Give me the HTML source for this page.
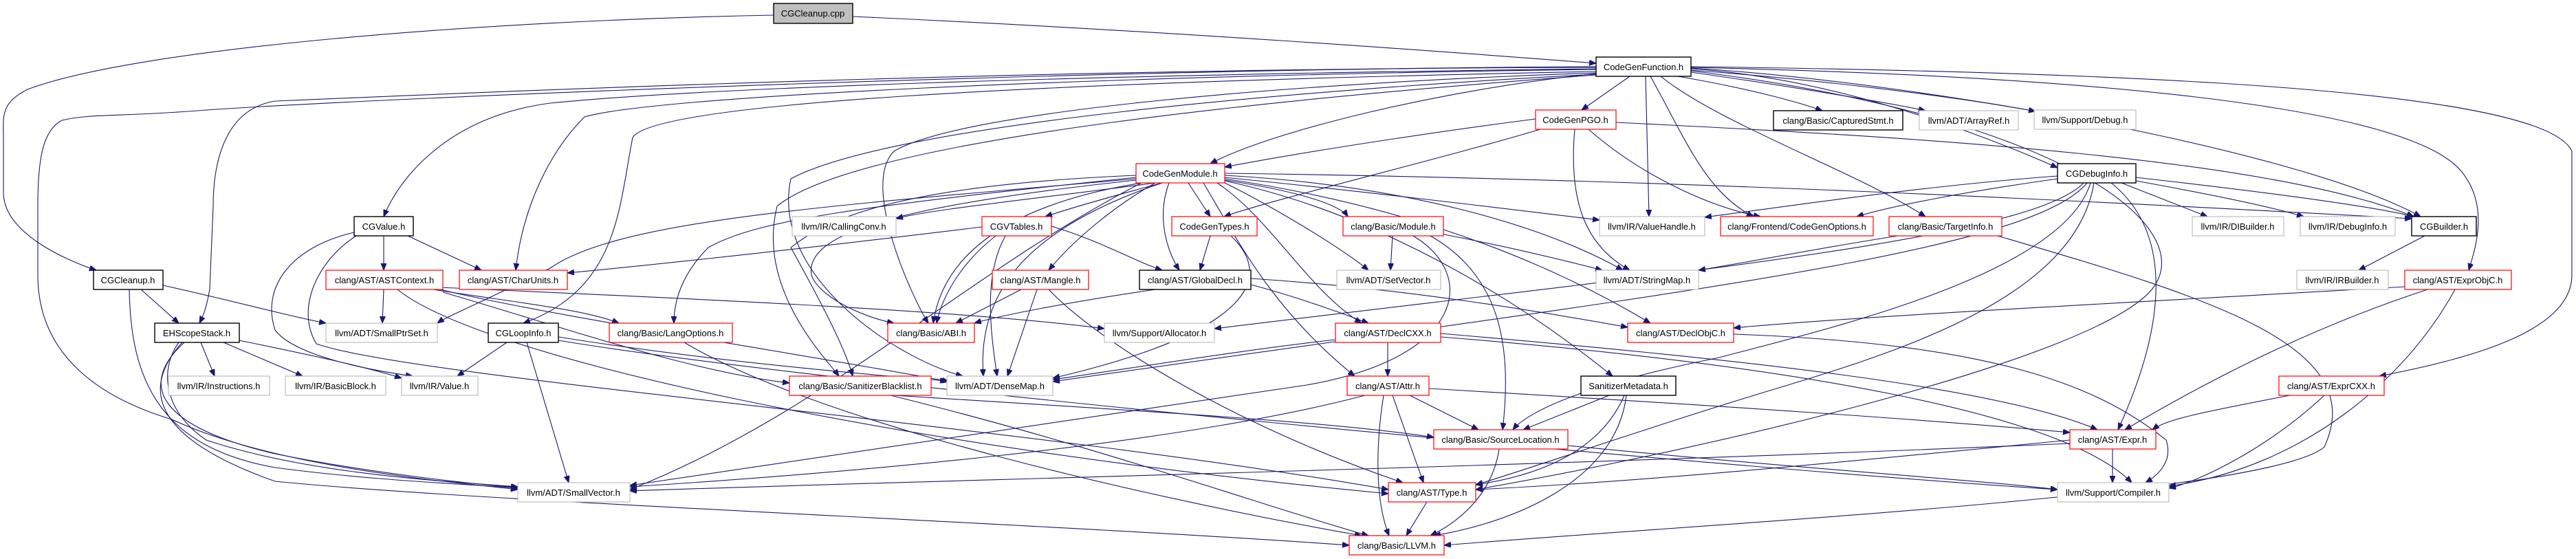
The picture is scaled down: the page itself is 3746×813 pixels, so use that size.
<!DOCTYPE html>
<html><head><meta charset="utf-8"><style>
html,body{margin:0;padding:0;background:#fff;}
svg{display:block;}
text{font-family:"Liberation Sans",sans-serif;font-size:13px;text-anchor:middle;fill:#000;}
.e{fill:none;stroke:#191970;stroke-width:1.1;marker-end:url(#a);}
.k{fill:#fff;stroke:#000;stroke-width:1.4;}
.r{fill:#fff;stroke:#ff0000;stroke-width:1.2;}
.g{fill:#fff;stroke:#bfbfbf;stroke-width:1.2;}
</style></head><body>
<svg width="3746" height="813" viewBox="0 0 3746 813" xmlns="http://www.w3.org/2000/svg">
<defs><marker id="a" markerUnits="userSpaceOnUse" markerWidth="11" markerHeight="9" refX="10" refY="4" orient="auto"><path d="M0,0 L10,4 L0,8 z" fill="#191970" stroke="#191970"/></marker></defs>
<g>
<path class="e" d="M1125 22 C700 30 200 70 40 130 C0 150 5 170 5 200 L5 280 C5 340 100 380 140 393"/>
<path class="e" d="M1240 24 C1700 45 2100 75 2321 92"/>
<path class="e" d="M2370 111 L2300 160"/>
<path class="e" d="M2321 107 C2100 130 1850 190 1760 238"/>
<path class="e" d="M2440 111 C2550 130 2620 150 2650 161"/>
<path class="e" d="M2459 105 C2600 125 2750 150 2800 161"/>
<path class="e" d="M2459 102 C2700 120 2900 150 2960 162"/>
<path class="e" d="M2459 100 C2700 115 2950 225 2992 244"/>
<path class="e" d="M2459 99 C2800 120 3350 220 3520 315"/>
<path class="e" d="M2459 98 C3000 110 3500 150 3580 250 C3620 300 3600 360 3590 393"/>
<path class="e" d="M2459 97 C3100 105 3700 130 3740 220 L3740 400 C3740 480 3600 520 3460 547"/>
<path class="e" d="M2393 111 L2398 315"/>
<path class="e" d="M2400 111 C2450 200 2480 280 2550 315"/>
<path class="e" d="M2415 111 C2500 180 2700 250 2800 315"/>
<path class="e" d="M2459 103 C3000 170 3200 330 3130 420 C3050 520 2500 650 2146 712"/>
<path class="e" d="M2321 100 C1500 110 1000 130 800 150 C650 170 580 260 558 315"/>
<path class="e" d="M2321 101 C1600 110 950 140 850 170 C800 220 760 300 750 393"/>
<path class="e" d="M2321 104 C1500 120 950 150 920 200 C900 300 900 420 761 470"/>
<path class="e" d="M2321 98 C1500 100 800 130 400 147 C320 160 310 250 310 300 L305 420 C300 450 295 460 290 470"/>
<path class="e" d="M2321 97 C1600 100 600 140 300 160 C180 170 130 165 90 175 C60 190 55 240 55 300 L55 400 C55 520 150 580 250 610 C400 680 650 700 753 712"/>
<path class="e" d="M2321 106 C1900 120 1400 160 1300 220 C1250 270 1330 440 1350 470"/>
<path class="e" d="M2321 108 C1900 130 1300 180 1150 260 C1120 400 1300 520 1400 547"/>
<path class="e" d="M2321 109 C1900 140 1250 200 1130 300 C1100 420 1200 520 1220 547"/>
<path class="e" d="M2233 173 C2100 190 1900 220 1781 243"/>
<path class="e" d="M2240 188 C2100 230 1850 290 1780 315"/>
<path class="e" d="M2310 188 C2380 250 2480 300 2560 315"/>
<path class="e" d="M2290 188 C2280 300 2310 360 2370 393"/>
<path class="e" d="M2350 178 C2800 200 3300 230 3510 315"/>
<path class="e" d="M1680 266 C1500 290 1350 305 1303 318"/>
<path class="e" d="M1690 266 C1600 290 1550 305 1520 315"/>
<path class="e" d="M1728 266 L1760 315"/>
<path class="e" d="M1700 266 C1680 320 1700 370 1715 393"/>
<path class="e" d="M1680 266 C1620 300 1560 350 1525 393"/>
<path class="e" d="M1660 266 C1450 300 1370 380 1357 470"/>
<path class="e" d="M1652 262 C1300 300 1170 340 1180 400 C1190 430 1250 460 1300 470"/>
<path class="e" d="M1781 262 C1900 280 1950 300 1960 315"/>
<path class="e" d="M1781 266 C1850 300 1950 360 1990 393"/>
<path class="e" d="M1781 258 C2000 280 2200 305 2326 320"/>
<path class="e" d="M1781 255 C2050 270 2250 330 2360 393"/>
<path class="e" d="M1770 266 C1850 320 1900 420 1980 470"/>
<path class="e" d="M1781 260 C2050 300 2250 380 2400 470"/>
<path class="e" d="M1781 263 C2000 310 2200 430 2345 547"/>
<path class="e" d="M1750 266 C1800 350 1850 450 1970 547"/>
<path class="e" d="M1690 266 C1500 330 1420 420 1430 547"/>
<path class="e" d="M1652 255 C1300 270 1200 320 1150 360 C1200 450 1230 510 1240 547"/>
<path class="e" d="M1652 258 C1250 300 1100 320 1030 360 C990 400 980 440 980 470"/>
<path class="e" d="M1652 260 C1200 300 900 320 800 390 C700 440 650 460 636 470"/>
<path class="e" d="M1781 252 C2400 260 3000 290 3507 318"/>
<path class="e" d="M1660 266 C1400 400 1200 600 916 712"/>
<path class="e" d="M3085 266 L3210 315"/>
<path class="e" d="M3106 263 C3200 280 3300 300 3350 315"/>
<path class="e" d="M3106 258 C3300 280 3450 300 3510 315"/>
<path class="e" d="M2992 256 C2800 270 2600 300 2479 316"/>
<path class="e" d="M2992 260 C2850 280 2750 300 2700 315"/>
<path class="e" d="M3070 266 C3150 330 3160 450 3080 625"/>
<path class="e" d="M3030 266 C2950 350 2400 400 1766 478"/>
<path class="e" d="M3035 266 C2950 370 2400 430 1531 555"/>
<path class="e" d="M3040 266 C3000 400 2650 480 2500 520 C2300 560 2220 600 2200 625"/>
<path class="e" d="M3045 266 C3020 420 2800 500 2600 560 C2400 620 2200 690 2146 705"/>
<path class="e" d="M558 343 L558 393"/>
<path class="e" d="M593 343 L700 393"/>
<path class="e" d="M515 338 C420 360 380 420 400 480 C430 520 550 540 600 547"/>
<path class="e" d="M518 343 C460 380 430 450 460 500 C600 550 1500 620 2019 712"/>
<path class="e" d="M558 421 L556 470"/>
<path class="e" d="M630 421 C750 440 850 450 900 470"/>
<path class="e" d="M640 421 C800 460 1200 520 1380 555"/>
<path class="e" d="M640 418 C900 430 1400 450 1606 478"/>
<path class="e" d="M578 421 C700 520 1300 650 2019 718"/>
<path class="e" d="M644 425 C800 470 1000 540 1148 557"/>
<path class="e" d="M1428 330 C1100 370 900 390 825 397"/>
<path class="e" d="M205 421 L260 470"/>
<path class="e" d="M237 415 C350 440 420 460 474 470"/>
<path class="e" d="M188 421 C190 550 230 650 400 680 C550 700 700 705 753 710"/>
<path class="e" d="M292 498 L312 547"/>
<path class="e" d="M325 498 L440 547"/>
<path class="e" d="M348 495 C420 510 520 530 584 550"/>
<path class="e" d="M268 498 C200 560 230 620 400 660 C550 690 700 705 753 709"/>
<path class="e" d="M260 498 C230 540 240 600 300 640 C450 690 650 700 753 708"/>
<path class="e" d="M265 498 C200 570 230 640 400 700 C700 730 1500 760 1962 793"/>
<path class="e" d="M737 498 L665 547"/>
<path class="e" d="M766 498 L827 702"/>
<path class="e" d="M812 490 C1000 520 1200 540 1377 554"/>
<path class="e" d="M812 495 C1200 560 2500 680 2992 712"/>
<path class="e" d="M995 498 C1200 620 1700 730 1980 779"/>
<path class="e" d="M1529 329 C1600 350 1650 380 1690 393"/>
<path class="e" d="M1448 343 C1400 380 1370 430 1362 470"/>
<path class="e" d="M1462 343 C1430 400 1440 480 1450 547"/>
<path class="e" d="M1760 343 L1745 393"/>
<path class="e" d="M1790 343 C1850 400 1830 480 1531 550"/>
<path class="e" d="M1680 421 C1550 440 1450 460 1417 470"/>
<path class="e" d="M1819 414 C1880 430 1950 455 1990 470"/>
<path class="e" d="M1819 405 C2050 420 2250 455 2367 476"/>
<path class="e" d="M1485 421 L1390 470"/>
<path class="e" d="M1508 421 L1465 547"/>
<path class="e" d="M1525 421 C1600 500 1800 620 2040 702"/>
<path class="e" d="M2025 343 L2022 393"/>
<path class="e" d="M2095 340 C2200 360 2280 380 2330 393"/>
<path class="e" d="M2080 343 C2180 400 2200 500 2185 625"/>
<path class="e" d="M2055 343 C2150 400 2130 520 1900 560 C1500 620 1100 680 916 706"/>
<path class="e" d="M2760 343 C2650 360 2550 380 2470 393"/>
<path class="e" d="M2905 343 C3200 430 3450 500 3380 650 C3300 720 2500 760 2100 793"/>
<path class="e" d="M2018 498 L2018 547"/>
<path class="e" d="M1942 494 C1800 510 1650 535 1531 552"/>
<path class="e" d="M2095 485 C2500 520 2900 560 3050 625"/>
<path class="e" d="M2095 490 C2600 530 3000 600 3100 702"/>
<path class="e" d="M2521 486 C2900 500 3050 560 3150 640 C3160 670 3140 690 3120 702"/>
<path class="e" d="M2050 575 L2150 625"/>
<path class="e" d="M2025 575 L2070 702"/>
<path class="e" d="M2012 575 C2000 650 2000 730 2020 779"/>
<path class="e" d="M1985 575 C1700 650 1200 690 916 708"/>
<path class="e" d="M2078 565 C2500 590 2800 610 3010 629"/>
<path class="e" d="M2340 575 L2215 625"/>
<path class="e" d="M2362 575 C2330 650 2250 690 2146 705"/>
<path class="e" d="M2365 575 C2350 700 2200 760 2085 779"/>
<path class="e" d="M1300 575 C1700 600 1950 615 2085 636"/>
<path class="e" d="M1295 575 C1600 650 1850 740 1990 779"/>
<path class="e" d="M2180 653 C2170 720 2120 760 2080 779"/>
<path class="e" d="M2280 648 C2600 680 2900 700 2992 712"/>
<path class="e" d="M2075 730 L2045 779"/>
<path class="e" d="M3072 653 L3072 702"/>
<path class="e" d="M3010 640 C2700 670 2400 700 2146 712"/>
<path class="e" d="M3010 645 C2200 680 1300 700 916 714"/>
<path class="e" d="M3330 575 C3200 600 3150 610 3130 625"/>
<path class="e" d="M3380 575 C3300 650 3200 700 3154 710"/>
<path class="e" d="M3530 421 C3350 480 3200 560 3090 625"/>
<path class="e" d="M3570 421 C3500 550 3350 680 3154 707"/>
<path class="e" d="M3497 417 C3100 440 2700 460 2521 477"/>
<path class="e" d="M3526 343 L3430 393"/>
</g>
<g>
<rect x="1125" y="5" width="115" height="29" fill="#bfbfbf" stroke="#000" stroke-width="1.4"/><text x="1182" y="24">CGCleanup.cpp</text>
<rect class="k" x="2321" y="83" width="138" height="28"/><text x="2390" y="102">CodeGenFunction.h</text>
<rect class="r" x="2233" y="160" width="117" height="28"/><text x="2291" y="179">CodeGenPGO.h</text>
<rect class="k" x="2579" y="161" width="188" height="28"/><text x="2673" y="180">clang/Basic/CapturedStmt.h</text>
<rect class="g" x="2791" y="161" width="144" height="28"/><text x="2863" y="180">llvm/ADT/ArrayRef.h</text>
<rect class="g" x="2958" y="160" width="148" height="28"/><text x="3032" y="179">llvm/Support/Debug.h</text>
<rect class="r" x="1652" y="238" width="129" height="28"/><text x="1716" y="257">CodeGenModule.h</text>
<rect class="k" x="2992" y="238" width="114" height="28"/><text x="3049" y="257">CGDebugInfo.h</text>
<rect class="k" x="515" y="315" width="86" height="28"/><text x="558" y="334">CGValue.h</text>
<rect class="g" x="1152" y="315" width="151" height="28"/><text x="1227" y="334">llvm/IR/CallingConv.h</text>
<rect class="r" x="1428" y="315" width="101" height="28"/><text x="1478" y="334">CGVTables.h</text>
<rect class="r" x="1704" y="315" width="124" height="28"/><text x="1766" y="334">CodeGenTypes.h</text>
<rect class="r" x="1953" y="315" width="146" height="28"/><text x="2026" y="334">clang/Basic/Module.h</text>
<rect class="g" x="2326" y="315" width="153" height="28"/><text x="2402" y="334">llvm/IR/ValueHandle.h</text>
<rect class="r" x="2502" y="315" width="222" height="28"/><text x="2613" y="334">clang/Frontend/CodeGenOptions.h</text>
<rect class="r" x="2747" y="315" width="164" height="28"/><text x="2829" y="334">clang/Basic/TargetInfo.h</text>
<rect class="g" x="3188" y="315" width="133" height="28"/><text x="3254" y="334">llvm/IR/DIBuilder.h</text>
<rect class="g" x="3345" y="315" width="138" height="28"/><text x="3414" y="334">llvm/IR/DebugInfo.h</text>
<rect class="k" x="3507" y="315" width="94" height="28"/><text x="3554" y="334">CGBuilder.h</text>
<rect class="k" x="136" y="393" width="101" height="28"/><text x="186" y="412">CGCleanup.h</text>
<rect class="r" x="474" y="393" width="170" height="28"/><text x="559" y="412">clang/AST/ASTContext.h</text>
<rect class="r" x="668" y="393" width="157" height="28"/><text x="746" y="412">clang/AST/CharUnits.h</text>
<rect class="r" x="1443" y="393" width="140" height="28"/><text x="1513" y="412">clang/AST/Mangle.h</text>
<rect class="k" x="1657" y="393" width="162" height="28"/><text x="1738" y="412">clang/AST/GlobalDecl.h</text>
<rect class="g" x="1944" y="393" width="151" height="28"/><text x="2019" y="412">llvm/ADT/SetVector.h</text>
<rect class="g" x="2321" y="393" width="149" height="28"/><text x="2395" y="412">llvm/ADT/StringMap.h</text>
<rect class="g" x="3340" y="393" width="133" height="28"/><text x="3406" y="412">llvm/IR/IRBuilder.h</text>
<rect class="r" x="3497" y="393" width="155" height="28"/><text x="3574" y="412">clang/AST/ExprObjC.h</text>
<rect class="k" x="225" y="470" width="123" height="28"/><text x="286" y="489">EHScopeStack.h</text>
<rect class="g" x="474" y="470" width="162" height="28"/><text x="555" y="489">llvm/ADT/SmallPtrSet.h</text>
<rect class="k" x="710" y="470" width="102" height="28"/><text x="761" y="489">CGLoopInfo.h</text>
<rect class="r" x="886" y="470" width="179" height="28"/><text x="975" y="489">clang/Basic/LangOptions.h</text>
<rect class="r" x="1291" y="470" width="126" height="28"/><text x="1354" y="489">clang/Basic/ABI.h</text>
<rect class="g" x="1606" y="470" width="160" height="28"/><text x="1686" y="489">llvm/Support/Allocator.h</text>
<rect class="r" x="1942" y="470" width="153" height="28"/><text x="2018" y="489">clang/AST/DeclCXX.h</text>
<rect class="r" x="2367" y="470" width="154" height="28"/><text x="2444" y="489">clang/AST/DeclObjC.h</text>
<rect class="g" x="245" y="547" width="147" height="28"/><text x="318" y="566">llvm/IR/Instructions.h</text>
<rect class="g" x="415" y="547" width="146" height="28"/><text x="488" y="566">llvm/IR/BasicBlock.h</text>
<rect class="g" x="584" y="547" width="111" height="28"/><text x="639" y="566">llvm/IR/Value.h</text>
<rect class="r" x="1148" y="547" width="206" height="28"/><text x="1251" y="566">clang/Basic/SanitizerBlacklist.h</text>
<rect class="g" x="1377" y="547" width="154" height="28"/><text x="1454" y="566">llvm/ADT/DenseMap.h</text>
<rect class="r" x="1959" y="547" width="119" height="28"/><text x="2018" y="566">clang/AST/Attr.h</text>
<rect class="k" x="2299" y="547" width="138" height="28"/><text x="2368" y="566">SanitizerMetadata.h</text>
<rect class="r" x="3314" y="547" width="153" height="28"/><text x="3390" y="566">clang/AST/ExprCXX.h</text>
<rect class="r" x="2085" y="625" width="195" height="28"/><text x="2182" y="644">clang/Basic/SourceLocation.h</text>
<rect class="r" x="3010" y="625" width="125" height="28"/><text x="3072" y="644">clang/AST/Expr.h</text>
<rect class="g" x="753" y="702" width="163" height="28"/><text x="834" y="721">llvm/ADT/SmallVector.h</text>
<rect class="r" x="2019" y="702" width="127" height="28"/><text x="2082" y="721">clang/AST/Type.h</text>
<rect class="g" x="2992" y="702" width="162" height="28"/><text x="3073" y="721">llvm/Support/Compiler.h</text>
<rect class="r" x="1962" y="779" width="138" height="28"/><text x="2031" y="798">clang/Basic/LLVM.h</text>
</g>
</svg>
</body></html>
